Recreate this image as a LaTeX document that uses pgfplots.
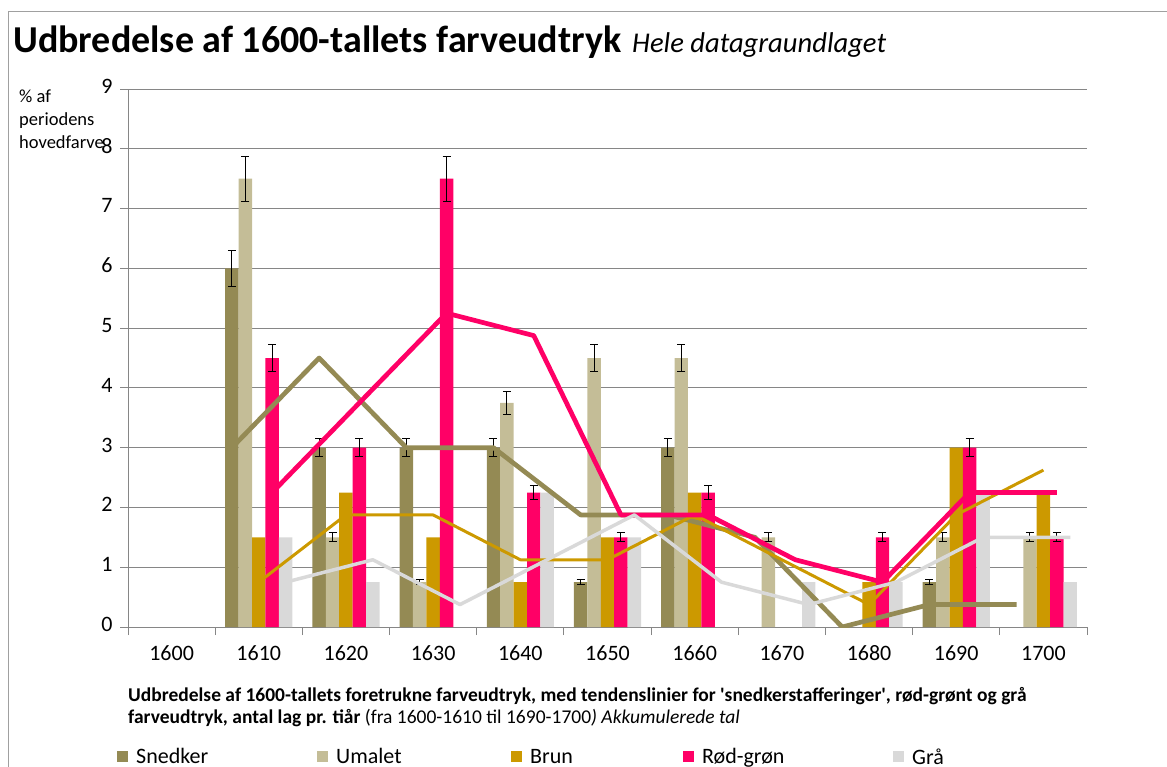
\documentclass[border=0pt]{standalone}
\usepackage{fontspec}
\setmainfont{Carlito}[Ligatures=TeXOff]
\usepackage{pgfplots}
\pgfplotsset{compat=1.18}
\definecolor{snedker}{HTML}{948A54}
\definecolor{umalet}{HTML}{C4BD97}
\definecolor{brun}{HTML}{CC9900}
\definecolor{rodgron}{HTML}{FF0066}
\definecolor{gra}{HTML}{D9D9D9}
\definecolor{gridgray}{HTML}{868686}
\definecolor{framegray}{HTML}{A0A0A0}
\pgfplotsset{myerr/.style={error bars/.cd, y dir=both, y explicit,
  error bar style={black, line width=1pt},
  error mark options={rotate=90, black, line width=1pt, mark size=4pt}}}
\begin{document}
\begin{tikzpicture}
\useasboundingbox (0pt,0pt) rectangle (1167pt,766pt);
\clip (0pt,0pt) rectangle (1167pt,766pt);
\draw[framegray, line width=1.2pt] (8.5pt,-20pt) -- (8.5pt,754.5pt) -- (1190pt,754.5pt);
% title
\node[anchor=base west, inner sep=0pt] at (13pt,713pt)
  {\fontsize{38}{40}\selectfont\bfseries Udbredelse af 1600-tallets farveudtryk\hspace{11pt}{\fontsize{28.6}{30}\selectfont\mdseries\itshape Hele datagraundlaget}};
% y label
\node[anchor=base west, inner sep=0pt, font=\fontsize{18.5}{23}\selectfont] at (19pt,663pt) {\% af};
\node[anchor=base west, inner sep=0pt, font=\fontsize{18.5}{23}\selectfont] at (19pt,640pt) {periodens};
\node[anchor=base west, inner sep=0pt, font=\fontsize{18.5}{23}\selectfont] at (19pt,617pt) {hovedfarve};
% caption
\node[anchor=base west, inner sep=0pt, font=\fontsize{19.5}{22}\selectfont] at (128pt,65pt)
  {\bfseries Udbredelse af 1600-tallets foretrukne farveudtryk, med tendenslinier for \char"27 snedkerstafferinger\char"27, rød-grønt og grå};
\node[anchor=base west, inner sep=0pt, font=\fontsize{19.5}{22}\selectfont] at (128pt,43pt)
  {\textbf{farveudtryk, antal lag pr. tiår} (fra 1600-1610 til 1690-1700\textit{) Akkumulerede tal}};
\begin{axis}[
  at={(128pt,139pt)}, anchor=south west,
  width=959pt, height=538pt, scale only axis,
  xmin=-0.5, xmax=10.5, ymin=0, ymax=9,
  axis lines*=left,
  axis line style={gridgray, line width=1pt},
  xtick={-0.5,0.5,1.5,2.5,3.5,4.5,5.5,6.5,7.5,8.5,9.5,10.5},
  x tick label as interval,
  xticklabels={1600,1610,1620,1630,1640,1650,1660,1670,1680,1690,1700},
  ytick={0,1,2,3,4,5,6,7,8,9},
  tick align=outside,
  major tick length=8pt,
  tick style={gridgray, line width=1pt},
  ymajorgrids,
  grid style={gridgray, line width=1pt},
  /pgf/number format/assume math mode=true,
  ticklabel style={font=\fontsize{22}{22}\selectfont},
  typeset ticklabels with strut,
  yticklabel style={xshift=-4pt},
  xticklabel style={yshift=-7pt, anchor=north},
  legend style={at={(axis description cs:-0.0115,-0.2416)}, anchor=west, draw=none, fill=none,
    inner sep=0pt, legend columns=5, font=\fontsize{22}{22}\selectfont,
    /tikz/every odd column/.append style={column sep=6pt},
    /tikz/every even column/.append style={column sep=0pt}},
  legend cell align=left,
]
% bars: x = category index + offset of the series within the group
\addplot[ybar, bar width=13.43pt, bar shift=0pt, fill=snedker, draw=none,
  legend image code/.code={\fill[snedker] (0pt,-5.5pt) rectangle (11pt,5.5pt);}, myerr]
  coordinates {(0.692,6) +- (0,0.3) (1.692,3) +- (0,0.15) (2.692,3) +- (0,0.15) (3.692,3) +- (0,0.15) (4.692,0.75) +- (0,0.0375) (5.692,3) +- (0,0.15) (8.692,0.75) +- (0,0.0375)};
\addlegendentry{\makebox[179pt][l]{Snedker}}
\addplot[ybar, bar width=13.43pt, bar shift=0pt, fill=umalet, draw=none,
  legend image code/.code={\fill[umalet] (0pt,-5.5pt) rectangle (11pt,5.5pt);}, myerr]
  coordinates {(0.846,7.5) +- (0,0.375) (1.846,1.5) +- (0,0.075) (2.846,0.75) +- (0,0.0375) (3.846,3.75) +- (0,0.1875) (4.846,4.5) +- (0,0.225) (5.846,4.5) +- (0,0.225) (6.846,1.5) +- (0,0.075) (8.846,1.5) +- (0,0.075) (9.846,1.5) +- (0,0.075)};
\addlegendentry{\makebox[173pt][l]{Umalet}}
\addplot[ybar, bar width=13.43pt, bar shift=0pt, fill=brun, draw=none,
  legend image code/.code={\fill[brun] (0pt,-5.5pt) rectangle (11pt,5.5pt);}]
  coordinates {(1,1.5) (2,2.25) (3,1.5) (4,0.75) (5,1.5) (6,2.25) (8,0.75) (9,3) (10,2.25)};
\addlegendentry{\makebox[151pt][l]{Brun}}
\addplot[ybar, bar width=13.43pt, bar shift=0pt, fill=rodgron, draw=none,
  legend image code/.code={\fill[rodgron] (0pt,-5.5pt) rectangle (11pt,5.5pt);}, myerr]
  coordinates {(1.154,4.5) +- (0,0.225) (2.154,3) +- (0,0.15) (3.154,7.5) +- (0,0.375) (4.154,2.25) +- (0,0.1125) (5.154,1.5) +- (0,0.075) (6.154,2.25) +- (0,0.1125) (8.154,1.5) +- (0,0.075) (9.154,3) +- (0,0.15) (10.154,1.5) +- (0,0.075)};
\addlegendentry{\makebox[189pt][l]{Rød-grøn}}
\addplot[ybar, bar width=13.43pt, bar shift=0pt, fill=gra, draw=none,
  legend image code/.code={\fill[gra] (0pt,-5.5pt) rectangle (11pt,5.5pt);}]
  coordinates {(1.308,1.5) (2.308,0.75) (4.308,2.25) (5.308,1.5) (7.308,0.75) (8.308,0.75) (9.308,2.25) (10.308,0.75)};
\addlegendentry{\makebox[60pt][l]{Grå}}
% trend lines (2-period moving averages)
\addplot[sharp plot, no markers, color=snedker, line width=4.7pt, line join=round, forget plot]
  coordinates {(0.692,3) (1.692,4.5) (2.692,3) (3.692,3) (4.692,1.875) (5.692,1.875) (6.692,1.5) (7.692,0) (8.692,0.375) (9.692,0.375)};
\addplot[sharp plot, no markers, color=brun, line width=3pt, line join=round, forget plot]
  coordinates {(1,0.75) (2,1.875) (3,1.875) (4,1.125) (5,1.125) (6,1.875) (7,1.125) (8,0.375) (9,1.875) (10,2.625)};
\addplot[sharp plot, no markers, color=rodgron, line width=4.7pt, line join=round, forget plot]
  coordinates {(1.154,2.25) (2.154,3.75) (3.154,5.25) (4.154,4.875) (5.154,1.875) (6.154,1.875) (7.154,1.125) (8.154,0.75) (9.154,2.25) (10.154,2.25)};
\addplot[sharp plot, no markers, color=gra, line width=3.5pt, line join=round, forget plot]
  coordinates {(1.308,0.75) (2.308,1.125) (3.308,0.375) (4.308,1.125) (5.308,1.875) (6.308,0.75) (7.308,0.375) (8.308,0.75) (9.308,1.5) (10.308,1.5)};
\end{axis}
\end{tikzpicture}
\end{document}
